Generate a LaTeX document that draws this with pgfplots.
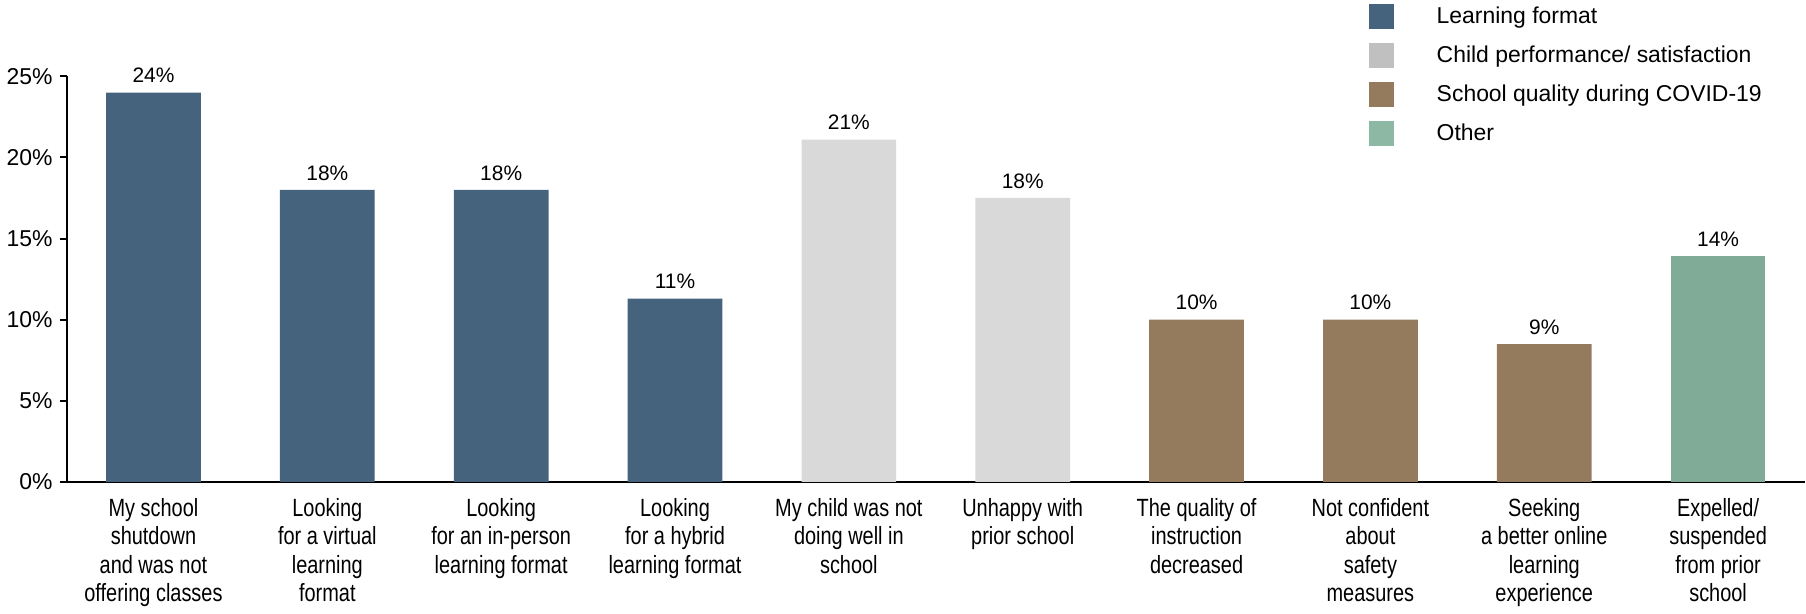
\documentclass[border=0pt]{standalone}
\usepackage{pgfplots}
\pgfplotsset{compat=1.18}
\usepackage{fontspec}
\setmainfont{Liberation Sans}
\newfontfamily\narrowfont[FakeStretch=0.8]{Liberation Sans}
\definecolor{learn}{HTML}{46637D}
\definecolor{child}{HTML}{D9D9D9}
\definecolor{school}{HTML}{947B5D}
\definecolor{other}{HTML}{7FAB97}
\definecolor{childL}{HTML}{C0C0C0}
\definecolor{otherL}{HTML}{8DB8A4}
\begin{document}
\begin{tikzpicture}
\begin{axis}[
  scale only axis, width=872pt, height=203.5pt,
  xmin=-0.5, xmax=9.5, ymin=0, ymax=25,
  enlargelimits=false,
  axis y line*=left, axis x line*=bottom,
  axis line style={line width=1pt, -},
  every outer x axis line/.append style={shorten <=-3.5pt},
  xtick={0,...,9},
  xticklabels={{My school\\shutdown\\and was not\\offering classes},
    {Looking\\for a virtual\\learning\\format},
    {Looking\\for an in-person\\learning format},
    {Looking\\for a hybrid\\learning format},
    {My child was not\\doing well in\\school},
    {Unhappy with\\prior school},
    {The quality of\\instruction\\decreased},
    {Not confident\\about\\safety\\measures},
    {Seeking\\a better online\\learning\\experience},
    {Expelled/\\suspended\\from prior\\school}},
  x tick label style={font=\narrowfont\fontsize{12.5}{14.3}\selectfont, align=center, anchor=north, yshift=-1pt},
  xtick style={draw=none},
  ytick={0,5,...,25},
  yticklabel={\pgfmathprintnumber{\tick}\%},
  y tick label style={font=\fontsize{11.5}{13}\selectfont},
  ytick style={line width=1pt, black},
  tick align=outside, major tick length=3.5pt,
  /pgf/number format/assume math mode=true,
  nodes near coords, point meta=explicit symbolic,
  every node near coord/.append style={font=\fontsize{10.5}{12}\selectfont, yshift=1.3pt, black},
  legend style={draw=none, fill=none, at={(rel axis cs:0.7455,1.189)}, anchor=north west,
    legend cell align=left, row sep=7pt, font=\fontsize{11.5}{13}\selectfont,
    nodes={inner sep=0pt, text depth=2.5pt, text height=8.5pt},
    /tikz/every odd column/.append style={column sep=21.5pt}},
  legend image code/.code={\fill[#1] (0pt,-5.6pt) rectangle (12.5pt,6.9pt);},
]
\addlegendimage{fill=learn, draw=none}
\addlegendentry{Learning format}
\addlegendimage{fill=childL, draw=none}
\addlegendentry{Child performance/ satisfaction}
\addlegendimage{fill=school, draw=none}
\addlegendentry{School quality during COVID-19}
\addlegendimage{fill=otherL, draw=none}
\addlegendentry{Other}

\addplot[ybar, bar width=47.5pt, bar shift=0pt, fill=learn, draw=none, forget plot]
  coordinates {(0,24) [24\%] (1,18) [18\%] (2,18) [18\%] (3,11.3) [11\%]};
\addplot[ybar, bar width=47.5pt, bar shift=0pt, fill=child, draw=none, forget plot]
  coordinates {(4,21.1) [21\%] (5,17.5) [18\%]};
\addplot[ybar, bar width=47.5pt, bar shift=0pt, fill=school, draw=none, forget plot]
  coordinates {(6,10) [10\%] (7,10) [10\%] (8,8.5) [9\%]};
\addplot[ybar, bar width=47.5pt, bar shift=0pt, fill=other, draw=none, forget plot]
  coordinates {(9,13.9) [14\%]};
\end{axis}
\end{tikzpicture}
\end{document}
